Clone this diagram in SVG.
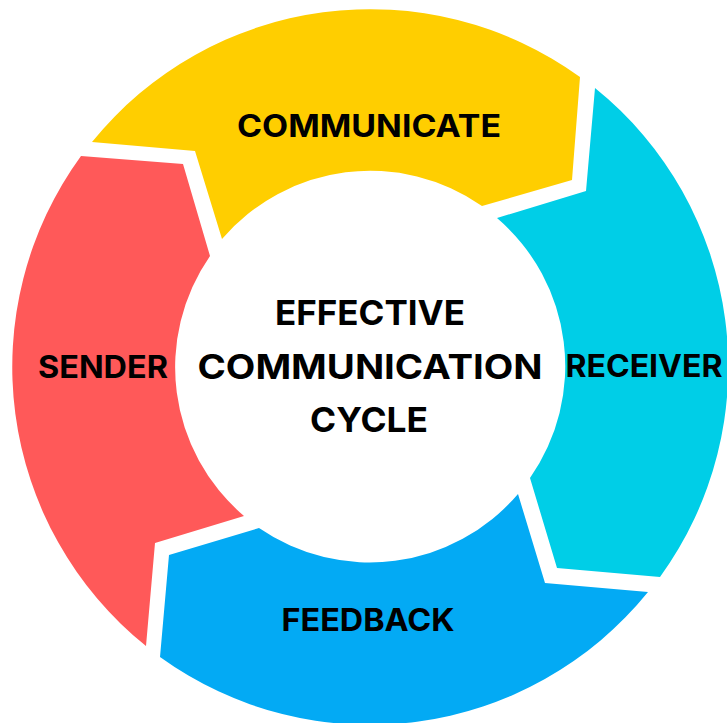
<svg xmlns="http://www.w3.org/2000/svg" width="727" height="723" viewBox="0 0 727 723">
<style>
.lbl{font-family:Inter,"Liberation Sans",Arial,sans-serif;font-weight:700;fill:#000;text-anchor:middle}
.ring{font-size:31px}
.ctr{font-size:34px}
</style>
<rect width="727" height="723" fill="#fff"/>
<g id="connectors"></g>
<g id="sender">
<path d="M146,646 A358,358 0 0 1 81,156 L183,164 L210,256 A195,195 0 0 0 244,516 L155,543 Z" fill="#FF5959"/>
<text class="lbl ring" x="103" y="378" textLength="130" lengthAdjust="spacingAndGlyphs">SENDER</text>
</g>
<g id="communicate">
<path d="M92,142 A358,358 0 0 1 580,77 L572,180 L482,206 A195,195 0 0 0 222,239 L195,151 Z" fill="#FFCE00"/>
<text class="lbl ring" x="369" y="137" textLength="264" lengthAdjust="spacingAndGlyphs">COMMUNICATE</text>
</g>
<g id="receiver">
<path d="M595,88 A358,358 0 0 1 660,577 L557,568 L530,478 A195,195 0 0 0 497,218 L586,191 Z" fill="#00CEE7"/>
<text class="lbl ring" x="644" y="377" textLength="157" lengthAdjust="spacingAndGlyphs">RECEIVER</text>
</g>
<g id="feedback">
<path d="M648,592 A358,358 0 0 1 160,657 L169,555 L259,528 A195,195 0 0 0 518,494 L545,583 Z" fill="#03AAF4"/>
<text class="lbl ring" x="368" y="631" textLength="173" lengthAdjust="spacingAndGlyphs">FEEDBACK</text>
</g>
<g id="center">
<text class="lbl ctr" x="370" y="325" textLength="190" lengthAdjust="spacingAndGlyphs">EFFECTIVE</text>
<text class="lbl ctr" x="370" y="379" textLength="345" lengthAdjust="spacingAndGlyphs">COMMUNICATION</text>
<text class="lbl ctr" x="369" y="432" textLength="118" lengthAdjust="spacingAndGlyphs">CYCLE</text>
</g>
</svg>
